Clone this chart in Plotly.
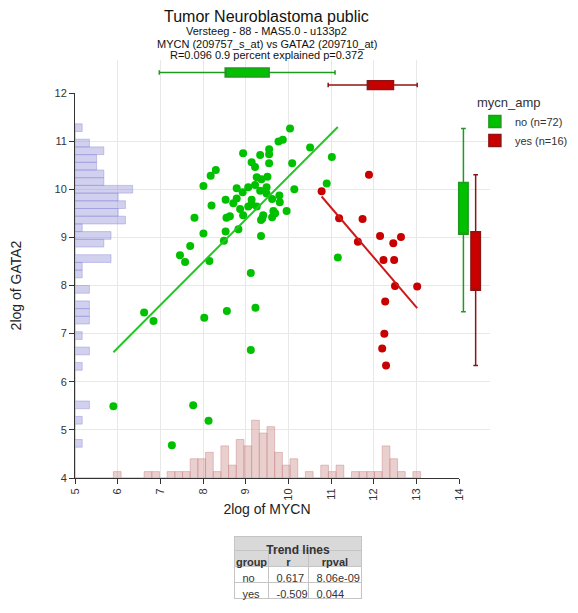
import numpy as np
import plotly.graph_objects as go

# MYCN (x) / GATA2 (y) per mycn_amp group
no_x = [10.04, 9.87, 9.77, 10.51, 8.94, 9.34, 9.55, 9.55, 9.14, 9.22,
        9.55, 10.09, 8.30, 8.18, 8.01, 9.26, 9.37, 9.51, 9.22, 9.06,
        8.79, 9.49, 9.34, 8.93, 9.49, 10.14, 8.53, 8.79, 8.71, 9.14,
        9.14, 9.06, 9.26, 8.87, 8.20, 9.62, 9.79, 9.80, 9.96, 9.65,
        9.69, 9.62, 8.94, 9.41, 9.39, 9.36, 8.63, 8.55, 7.80, 8.83,
        8.53, 8.01, 9.36, 8.49, 7.70, 7.46, 7.58, 8.15, 9.12,
        11.02, 10.90, 11.16,
        6.62, 6.84, 8.03, 8.56, 9.23, 9.12, 5.90, 7.77, 8.13, 7.27]
no_y = [11.26, 11.03, 10.99, 10.87, 10.75, 10.71, 10.83, 10.73, 10.56, 10.46,
        10.54, 10.54, 10.40, 10.28, 10.07, 10.25, 10.21, 10.26, 10.09, 10.04,
        10.02, 10.04, 9.97, 9.94, 9.91, 10.00, 9.78, 9.81, 9.71, 9.78,
        9.69, 9.64, 9.64, 9.59, 9.66, 9.80, 9.87, 9.73, 9.55, 9.55,
        9.50, 9.42, 9.46, 9.46, 9.39, 9.36, 9.44, 9.41, 9.41, 9.17,
        9.12, 9.08, 9.03, 8.93, 8.82, 8.63, 8.49, 8.51, 8.26,
        10.67, 10.12, 8.58,
        7.44, 7.26, 7.33, 7.47, 7.54, 6.66, 5.49, 5.51, 5.19, 4.68]
yes_x = [11.89, 10.78, 11.19, 11.74, 11.63, 12.15, 12.46, 12.64,
         12.23, 12.48, 12.50, 13.02, 12.27, 12.25, 12.20, 12.29]
yes_y = [10.30, 9.96, 9.40, 9.38, 8.91, 9.03, 8.88, 9.01,
         8.53, 8.53, 7.99, 7.98, 7.67, 7.00, 6.69, 6.34]

# marginal histogram counts (all 88 samples)
mycn_bin_start, mycn_bin_size = 5.0, 0.18
mycn_counts = [0, 0, 0, 0, 0, 1, 0, 0, 0, 1, 1, 0, 1, 1, 1, 3, 3, 4, 1, 5, 2, 6, 5,
               9, 7, 8, 4, 2, 3, 0, 1, 0, 2, 1, 2, 0, 1, 1, 1, 1, 5, 3, 1, 0, 1]
gata2_bin_start, gata2_bin_size = 4.0, 0.16
gata2_counts = [0, 0, 0, 0, 1, 0, 0, 1, 0, 2, 0, 0, 0, 0, 1, 0, 2, 0, 1, 0, 2, 2, 2,
                0, 2, 0, 1, 1, 5, 0, 4, 5, 1, 7, 6, 7, 6, 8, 4, 4, 3, 3, 4, 2, 0, 1]

# trend line table
table_title = "Trend\u00a0lines"
table_columns = ["group", "r", "rpval"]
table_group = ["no", "yes"]
table_r = ["0.617", "-0.509"]
table_rpval = ["8.06e-09", "0.044"]

FONT = "Liberation Sans"
GREEN, GREEN_DARK = "#00c000", "#1f9a1f"
RED, RED_DARK = "#c80000", "#8e1414"

groups = [
    ("no", np.array(no_x), np.array(no_y), GREEN, GREEN_DARK, "#22c722"),
    ("yes", np.array(yes_x), np.array(yes_y), RED, RED_DARK, "#cc1a1a"),
]


def box_stats(v):
    q1, q3 = np.percentile(v, [25, 75])
    iqr = q3 - q1
    lo = max(v.min(), q1 - 1.5 * iqr)
    hi = min(v.max(), q3 + 1.5 * iqr)
    return q1, q3, lo, hi


fig = go.Figure()

# marginal histograms on overlaid axes
mx = mycn_bin_start + mycn_bin_size * (np.arange(len(mycn_counts)) + 0.5)
fig.add_trace(go.Bar(x=mx, y=mycn_counts, width=mycn_bin_size, xaxis="x", yaxis="y3",
                     marker=dict(color="rgba(205,140,140,0.42)",
                                 line=dict(color="rgba(205,140,140,0.5)", width=1)),
                     showlegend=False, hoverinfo="skip"))
gy = gata2_bin_start + gata2_bin_size * (np.arange(len(gata2_counts)) + 0.5)
fig.add_trace(go.Bar(y=gy, x=gata2_counts, width=gata2_bin_size, orientation="h",
                     xaxis="x3", yaxis="y",
                     marker=dict(color="rgba(140,140,215,0.40)",
                                 line=dict(color="rgba(140,140,215,0.45)", width=1)),
                     showlegend=False, hoverinfo="skip"))

top_pos = {"no": 0.62, "yes": 0.24}
right_pos = {"no": 0.24, "yes": 0.59}

for name, x, y, col, dark, linecol in groups:
    fig.add_trace(go.Scatter(x=x, y=y, mode="markers", marker=dict(color=col, size=8),
                             showlegend=False))
    slope, icpt = np.polyfit(x, y, 1)
    xs = np.array([x.min(), x.max()])
    fig.add_trace(go.Scatter(x=xs, y=slope * xs + icpt, mode="lines",
                             line=dict(color=linecol, width=2), showlegend=False))

    # box of MYCN on top (no median line drawn, as in the source)
    q1, q3, lo, hi = box_stats(x)
    fig.add_trace(go.Box(orientation="h", y=[top_pos[name]], q1=[q1], median=[q1], q3=[q3],
                         lowerfence=[lo], upperfence=[hi], width=0.27,
                         xaxis="x", yaxis="y2", fillcolor=col,
                         line=dict(color=dark, width=1.5), showlegend=False,
                         hoverinfo="skip"))
    # box of GATA2 on the right
    q1, q3, lo, hi = box_stats(y)
    fig.add_trace(go.Box(x=[right_pos[name]], q1=[q1], median=[q1], q3=[q3],
                         lowerfence=[lo], upperfence=[hi], width=0.27,
                         xaxis="x4", yaxis="y", fillcolor=col,
                         line=dict(color=dark, width=1.5),
                         name=f"{name} (n={len(x)})", hoverinfo="skip"))

# trend lines table, then a one-cell title table drawn over its top edge
# (plain text, no markup/spaces, so plotly keeps the row heights as given)
tbl_x = [0.3843, 0.6904]
fig.add_trace(go.Table(
    domain=dict(x=tbl_x, y=[0, 0.1139]),
    columnwidth=[34, 40, 53],
    header=dict(values=table_columns, fill_color="#d9d9d9",
                height=16, line_color="#c4c4c4", align="center",
                font=dict(family=FONT, size=11, color="#333", weight="bold")),
    cells=dict(values=[table_group, table_r, table_rpval], fill_color="white", height=16,
               line_color="#c4c4c4", align="left",
               font=dict(family=FONT, size=11, color="#333")),
))
fig.add_trace(go.Table(
    domain=dict(x=tbl_x, y=[0, 0.1383]),
    header=dict(values=[table_title], fill_color="#d9d9d9", height=14,
                line_color="#c4c4c4", align="center",
                font=dict(family=FONT, size=12, color="#333", weight="bold")),
    cells=dict(values=[[]]),
))

axis_common = dict(showgrid=True, gridcolor="#e8e8e8", zeroline=False, dtick=1,
                   ticks="outside", ticklen=5, tickcolor="#333", showline=True,
                   linecolor="#333", tickfont=dict(family=FONT, size=11, color="#333"),
                   automargin=False)

# the page body adds an 8px offset, so the figure is laid out 8px up/left
fig.update_layout(
    width=570, height=605,
    margin=dict(l=67, r=88, t=52, b=0, autoexpand=False),
    paper_bgcolor="white", plot_bgcolor="white",
    font=dict(family=FONT, color="#222"),
    xaxis=dict(domain=[0, 0.9253], range=[5, 14], tickangle=-90, anchor="y",
               title=dict(text="2log of MYCN", font=dict(size=14), standoff=3),
               **axis_common),
    yaxis=dict(domain=[0.2441, 0.9403], range=[4, 12], anchor="x",
               title=dict(text="2log of GATA2", font=dict(size=14), standoff=31),
               **axis_common),
    yaxis3=dict(overlaying="y", range=[0, max(mycn_counts) / 0.15], visible=False),
    xaxis3=dict(overlaying="x", range=[0, max(gata2_counts) / 0.15], visible=False),
    yaxis2=dict(domain=[0.9403, 1.0], range=[0, 1], anchor="x", visible=False),
    xaxis4=dict(domain=[0.9157, 1.0], range=[0, 1], anchor="y", visible=False),
    legend=dict(x=0.9636, y=0.9457, xanchor="left", yanchor="top",
                bgcolor="rgba(0,0,0,0)",
                title=dict(text="mycn_amp", font=dict(size=13)),
                font=dict(family=FONT, size=11, color="#333")),
)

titles = [
    ("Tumor Neuroblastoma public", 16, 1.0783),
    ("Versteeg - 88 - MAS5.0 - u133p2", 11, 1.0524),
    ("MYCN (209757_s_at) vs GATA2 (209710_at)", 11, 1.0289),
    ("R=0.096 0.9 percent explained p=0.372", 11, 1.0090),
]
for text, size, ypos in titles:
    fig.add_annotation(text=text, xref="x domain", yref="paper", x=0.5, y=ypos,
                       showarrow=False, yanchor="middle",
                       font=dict(family=FONT, size=size, color="#111"))

fig.write_html("out.html")
